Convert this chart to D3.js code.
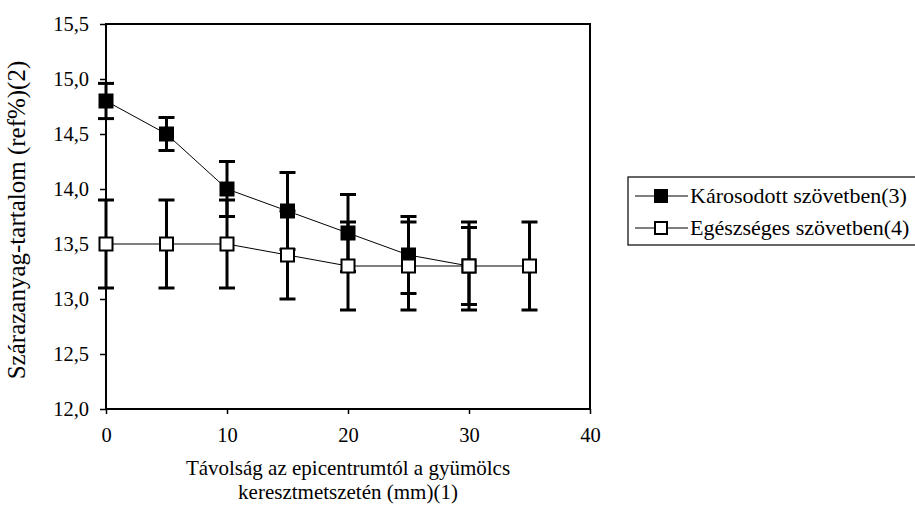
<!DOCTYPE html>
<html><head><meta charset="utf-8">
<script src="https://cdn.jsdelivr.net/npm/d3@7"></script>
<style>body{margin:0;background:#fff;} svg{display:block;} svg text{fill:#000;}</style>
</head><body>
<svg id="c" width="915" height="516"></svg>
<script>
const xTicks = [0, 10, 20, 30, 40];
const yTicks = [12.0, 12.5, 13.0, 13.5, 14.0, 14.5, 15.0, 15.5];
const seriesNames = ["Károsodott szövetben(3)", "Egészséges szövetben(4)"];
const damagedX = [0, 5, 10, 15, 20, 25, 30];
const damagedY = [14.8, 14.5, 14.0, 13.8, 13.6, 13.4, 13.3];
const damagedErr = [0.16, 0.15, 0.25, 0.35, 0.35, 0.35, 0.35];
const healthyX = [0, 5, 10, 15, 20, 25, 30, 35];
const healthyY = [13.5, 13.5, 13.5, 13.4, 13.3, 13.3, 13.3, 13.3];
const healthyErr = [0.4, 0.4, 0.4, 0.4, 0.4, 0.4, 0.4, 0.4];
const xTitle = ["Távolság az epicentrumtól a gyümölcs", "keresztmetszetén (mm)(1)"];
const yTitle = "Szárazanyag-tartalom (ref%)(2)";

const FONT = '"Liberation Serif","Times New Roman",Times,serif';
const svg = d3.select("#c");
const L = 106, R = 590, T = 24, B = 409;
const x = d3.scaleLinear().domain([0, 40]).range([L, R]);
const y = d3.scaleLinear().domain([12, 15.5]).range([B, T]);
const fmt = d => d3.format(".1f")(d).replace(".", ",");

// axes
const ya = svg.append("g").attr("transform", `translate(${L},0)`)
  .call(d3.axisLeft(y).tickValues(yTicks).tickFormat(fmt).tickSize(6).tickPadding(11));
const xa = svg.append("g").attr("transform", `translate(0,${B})`)
  .call(d3.axisBottom(x).tickValues(xTicks).tickFormat(d3.format("d")).tickSize(5).tickPadding(13));
[ya, xa].forEach(a => {
  a.attr("font-family", FONT).attr("font-size", 20.5);
  a.select(".domain").remove();
  a.selectAll(".tick line").attr("stroke", "#000").attr("stroke-width", 1.5);
  a.selectAll(".tick text").attr("font-family", FONT).attr("font-size", 20.5);
});

// frame
svg.append("rect").attr("x", L).attr("y", T).attr("width", R - L).attr("height", B - T)
  .attr("fill", "none").attr("stroke", "#000").attr("stroke-width", 2);

function drawSeries(xs, ys, es, fill) {
  const g = svg.append("g");
  const pts = xs.map((d, i) => ({x: d, y: ys[i], e: es[i]}));
  g.append("path").datum(pts)
    .attr("d", d3.line().x(d => x(d.x)).y(d => y(d.y)))
    .attr("fill", "none").attr("stroke", "#000").attr("stroke-width", 1);
  const eb = g.selectAll(".eb").data(pts).enter().append("g");
  eb.append("line").attr("x1", d => x(d.x)).attr("x2", d => x(d.x))
    .attr("y1", d => y(d.y + d.e)).attr("y2", d => y(d.y - d.e))
    .attr("stroke", "#000").attr("stroke-width", 3);
  [1, -1].forEach(s => {
    eb.append("line").attr("x1", d => x(d.x) - 8).attr("x2", d => x(d.x) + 8)
      .attr("y1", d => y(d.y + s * d.e)).attr("y2", d => y(d.y + s * d.e))
      .attr("stroke", "#000").attr("stroke-width", 3);
  });
  g.selectAll(".m").data(pts).enter().append("rect")
    .attr("x", d => x(d.x) - 6.5).attr("y", d => y(d.y) - 6.5)
    .attr("width", 13).attr("height", 13)
    .attr("fill", fill).attr("stroke", "#000").attr("stroke-width", 2);
}
drawSeries(damagedX, damagedY, damagedErr, "#000");
drawSeries(healthyX, healthyY, healthyErr, "#fff");

// axis titles
svg.append("text").attr("transform", `translate(25,220) rotate(-90)`)
  .attr("text-anchor", "middle").attr("font-family", FONT).attr("font-size", 25).text(yTitle);
xTitle.forEach((t, i) => {
  svg.append("text").attr("x", (L + R) / 2).attr("y", 475 + i * 24)
    .attr("text-anchor", "middle").attr("font-family", FONT).attr("font-size", 21).text(t);
});

// legend
const lg = svg.append("g");
lg.append("rect").attr("x", 628).attr("y", 177).attr("width", 300).attr("height", 68)
  .attr("fill", "#fff").attr("stroke", "#000").attr("stroke-width", 1.2);
seriesNames.forEach((n, i) => {
  const cy = 196 + i * 32;
  const fill = i === 0 ? "#000" : "#fff";
  lg.append("line").attr("x1", 635).attr("x2", 688).attr("y1", cy).attr("y2", cy)
    .attr("stroke", "#000").attr("stroke-width", 1);
  lg.append("rect").attr("x", 655).attr("y", cy - 6).attr("width", 12).attr("height", 12)
    .attr("fill", fill).attr("stroke", "#000").attr("stroke-width", 2);
  lg.append("text").attr("x", 690).attr("y", cy + 7).attr("font-family", FONT).attr("font-size", 22).text(n);
});
</script>
</body></html>
